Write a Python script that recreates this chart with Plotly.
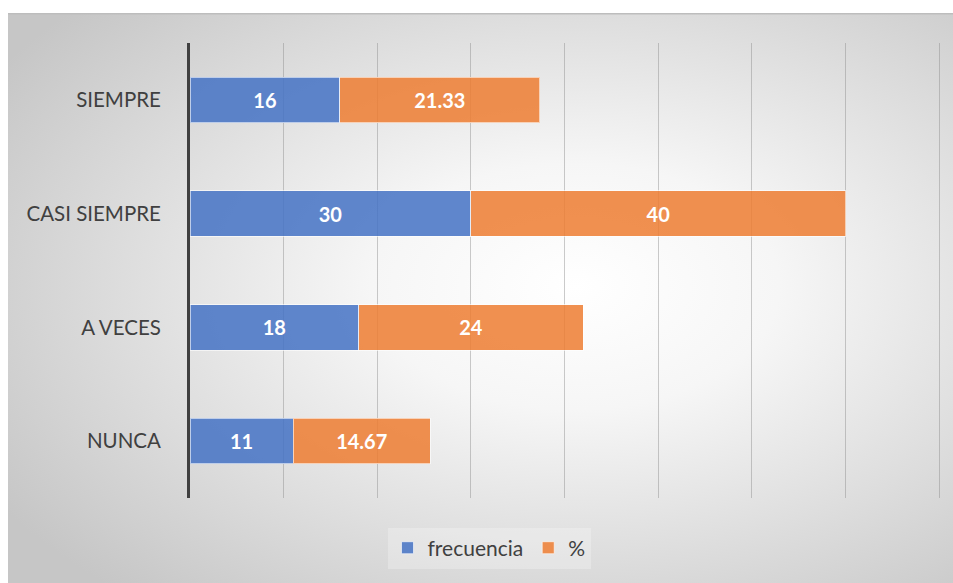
import base64
import plotly.graph_objects as go

categorias = ["NUNCA", "A VECES", "CASI SIEMPRE", "SIEMPRE"]
frecuencia = [11, 18, 30, 16]
porcentaje = [14.67, 24, 40, 21.33]
etiquetas_frec = ["11", "18", "30", "16"]
etiquetas_pct = ["14.67", "24", "40", "21.33"]

ANCHO_PLOT = 754  # plot-area width in px (left margin 190, right margin 9)

# Soft radial background for the chart frame
svg = """<svg xmlns='http://www.w3.org/2000/svg' width='945' height='570' viewBox='0 0 945 570' preserveAspectRatio='none'>
<defs><radialGradient id='g' cx='0.6' cy='0.48' r='0.72' fx='0.6' fy='0.48'>
<stop offset='0' stop-color='#ffffff'/><stop offset='0.3' stop-color='#f6f6f6'/>
<stop offset='1' stop-color='#c6c6c6'/></radialGradient></defs>
<rect x='0' y='0' width='945' height='570' fill='url(#g)'/>
<line x1='0' y1='0.5' x2='945' y2='0.5' stroke='#bdbdbd' stroke-width='2'/>
</svg>"""
fondo = "data:image/svg+xml;base64," + base64.b64encode(svg.encode()).decode()

fuente = "Lato, 'Open Sans', sans-serif"

fig = go.Figure()
fig.add_trace(go.Bar(
    y=categorias, x=frecuencia, name="frecuencia", orientation="h",
    marker=dict(color="rgba(68,114,196,0.85)", line=dict(color="rgba(255,255,255,0.6)", width=1)),
    text=etiquetas_frec, textposition="inside", insidetextanchor="middle",
    textfont=dict(color="white", size=20, family=fuente, weight="bold"),
))
fig.add_trace(go.Bar(
    y=categorias, x=porcentaje, name="%", orientation="h",
    marker=dict(color="rgba(237,125,49,0.85)", line=dict(color="rgba(255,255,255,0.6)", width=1)),
    text=etiquetas_pct, textposition="inside", insidetextanchor="middle",
    textfont=dict(color="white", size=20, family=fuente, weight="bold"),
))

fig.update_layout(
    width=953, height=583,
    barmode="stack", bargap=0.6,
    paper_bgcolor="white", plot_bgcolor="rgba(0,0,0,0)",
    margin=dict(l=190, r=9, t=43, b=85),
    font=dict(family=fuente, color="#404040", size=20),
    showlegend=True,
    legend=dict(orientation="h", x=(489 - 190) / ANCHO_PLOT, xanchor="center", y=-0.065, yanchor="top",
                font=dict(size=21, color="#404040"), bgcolor="rgba(255,255,255,0.25)",
                itemwidth=30, traceorder="normal"),
    images=[dict(source=fondo, xref="paper", yref="paper", x=-182 / ANCHO_PLOT, y=1 + 30 / 455,
                 sizex=945 / ANCHO_PLOT, sizey=570 / 455, xanchor="left", yanchor="top",
                 sizing="stretch", layer="below")],
    xaxis=dict(range=[0, 80.5], dtick=10, showticklabels=False, showgrid=True,
               gridcolor="rgba(140,140,140,0.45)", gridwidth=1, zeroline=False,
               showline=False, fixedrange=True),
    yaxis=dict(showline=True, linecolor="#404040", linewidth=3, ticks="",
               ticklabelstandoff=22, tickfont=dict(size=20.5, color="#404040"),
               showgrid=False, fixedrange=True),
)

fig.write_html("out.html")
